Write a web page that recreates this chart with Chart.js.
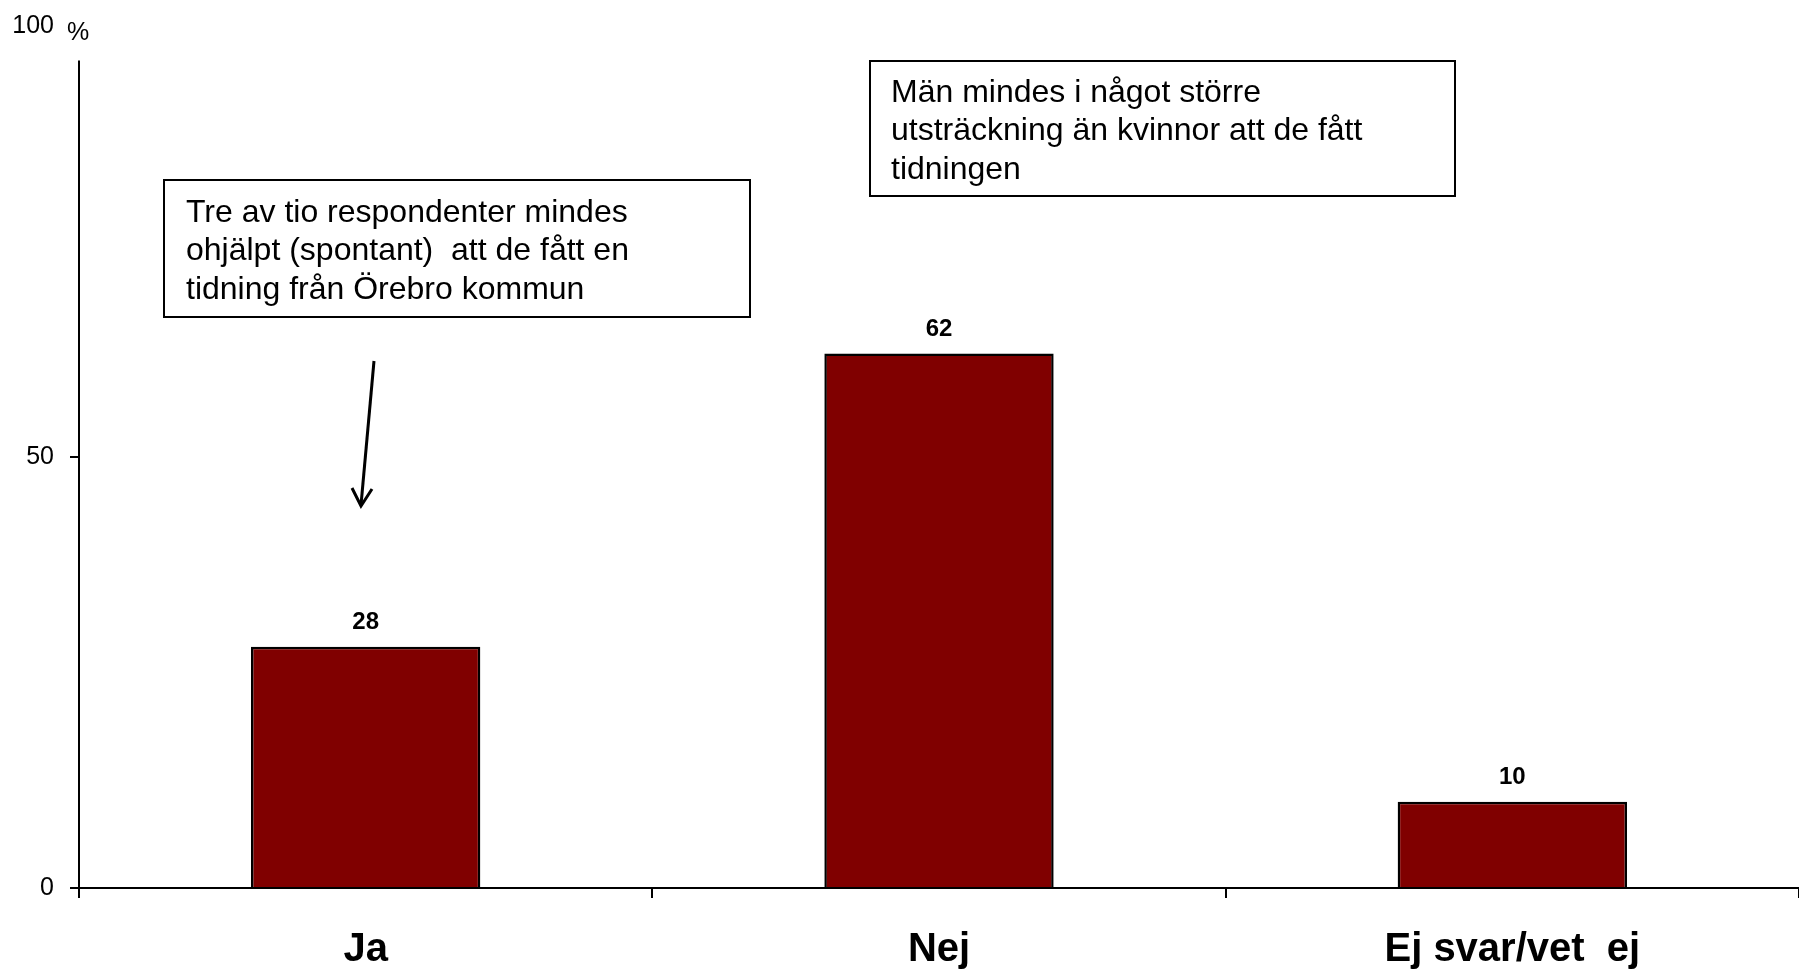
<!DOCTYPE html>
<html><head><meta charset="utf-8">
<script src="https://cdn.jsdelivr.net/npm/chart.js@4/dist/chart.umd.min.js"></script>
<style>html,body{margin:0;padding:0;background:#fff;overflow:hidden}#wrap{width:1799px;height:975px;position:relative}</style>
</head><body><div id="wrap"><canvas id="c"></canvas></div>
<script>
const categories = ['Ja', 'Nej', 'Ej svar/vet  ej'];
const values = [28, 62, 10];
const yTicks = [0, 50, 100];
const unitLabel = '%';
const noteLeft = ['Tre av tio respondenter mindes', 'ohjälpt (spontant)  att de fått en', 'tidning från Örebro kommun'];
const noteRight = ['Män mindes i något större', 'utsträckning än kvinnor att de fått', 'tidningen'];

const FONT = "'Liberation Sans', Arial, sans-serif";

const extras = {
  id: 'extras',
  afterDraw(chart) {
    const ctx = chart.ctx;
    const ys = chart.scales.y;
    const area = chart.chartArea;
    ctx.save();
    ctx.strokeStyle = '#000';
    ctx.lineWidth = 2;
    ctx.beginPath();
    ctx.moveTo(area.left, ys.getPixelForValue(96));
    ctx.lineTo(area.left, area.bottom + 10);
    ctx.stroke();
    ctx.fillStyle = '#000';
    ctx.font = '25px ' + FONT;
    ctx.textAlign = 'left';
    ctx.textBaseline = 'middle';
    ctx.fillText(unitLabel, 67, ys.getPixelForValue(100) + 7);
    const meta = chart.getDatasetMeta(0);
    ctx.font = 'bold 24px ' + FONT;
    ctx.textAlign = 'center';
    meta.data.forEach((bar, i) => {
      ctx.fillText(String(values[i]), bar.x, bar.y - 24);
    });
    function box(x, y, w, h, lines, tx, ty0) {
      ctx.lineWidth = 2;
      ctx.strokeStyle = '#000';
      ctx.fillStyle = '#fff';
      ctx.fillRect(x, y, w, h);
      ctx.strokeRect(x, y, w, h);
      ctx.fillStyle = '#000';
      ctx.font = '32px ' + FONT;
      ctx.textAlign = 'left';
      ctx.textBaseline = 'middle';
      lines.forEach((l, i) => ctx.fillText(l, tx, ty0 + i * 38.5));
    }
    box(164, 180, 586, 137, noteLeft, 186, 213);
    box(870, 61, 585, 135, noteRight, 891, 93);
    ctx.lineWidth = 3;
    ctx.beginPath();
    ctx.moveTo(374, 361);
    ctx.lineTo(361, 505);
    ctx.stroke();
    ctx.beginPath();
    ctx.moveTo(352, 488);
    ctx.lineTo(361, 506);
    ctx.lineTo(372, 489);
    ctx.stroke();
    ctx.restore();
  }
};

new Chart(document.getElementById('c'), {
  type: 'bar',
  data: {
    labels: categories,
    datasets: [{
      data: values,
      backgroundColor: '#800000',
      borderColor: '#000',
      borderWidth: 2.5,
      barPercentage: 0.4,
      categoryPercentage: 1.0
    }]
  },
  options: {
    responsive: true,
    maintainAspectRatio: false,
    animation: false,
    layout: { padding: { top: 26, right: 0, left: 0, bottom: 0 } },
    plugins: { legend: { display: false }, tooltip: { enabled: false } },
    scales: {
      x: {
        grid: { offset: true, drawOnChartArea: false, tickLength: 10, lineWidth: 2, color: '#000' },
        border: { display: true, color: '#000', width: 2 },
        ticks: { color: '#000', font: { family: FONT, size: 40, weight: 'bold' }, padding: 28, maxRotation: 0, autoSkip: false },
        afterFit(s) { s.height = 87; }
      },
      y: {
        min: 0, max: 100,
        afterBuildTicks(s) { s.ticks = yTicks.map(v => ({ value: v })); },
        grid: {
          drawOnChartArea: false, tickLength: 9, lineWidth: 2,
          tickColor: c => (c.tick && c.tick.value === 100) ? 'rgba(0,0,0,0)' : '#000'
        },
        border: { display: false },
        ticks: { color: '#000', font: { family: FONT, size: 25 }, padding: 16 },
        afterFit(s) { s.width = 79; s.paddingTop = 0; s.paddingBottom = 0; }
      }
    }
  },
  plugins: [extras]
});
</script>
</body></html>
